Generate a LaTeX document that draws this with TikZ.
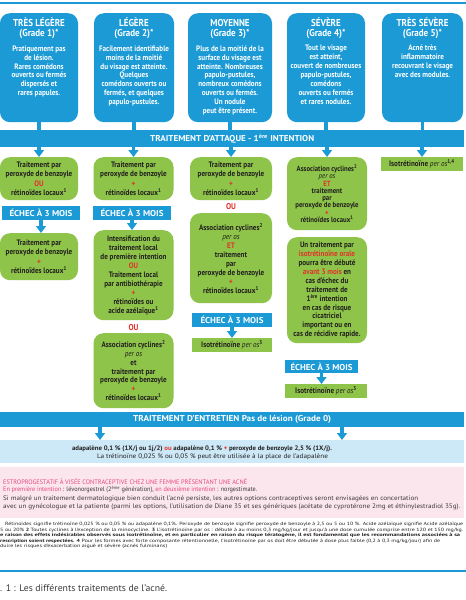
\documentclass[tikz,border=0pt]{standalone}
\usepackage{fontspec}
\usepackage{graphicx}
\setmainfont{PT Sans}
\newfontfamily\cf{PT Sans}[FakeStretch=0.9]
\usetikzlibrary{arrows.meta}
\definecolor{acblue}{HTML}{1B9AD6}
\definecolor{acgreen}{HTML}{8DC449}
\definecolor{acred}{HTML}{E4312B}
\definecolor{acdark}{HTML}{231F20}
\definecolor{aclight}{HTML}{CDE8F6}
\definecolor{acpink}{HTML}{FCE6EE}
\definecolor{acpinktxt}{HTML}{E5467F}
\definecolor{acgray}{HTML}{3A3A3A}
\newcommand\rd[1]{\textcolor{acred}{#1}}
\newcommand\pk[1]{\textcolor{acpinktxt}{#1}}
\newcommand\po{\textit{\mdseries per os}}
\newcommand\tstr[1]{\rule{0pt}{#1}}
\newlength\fitlen
\newcommand\fitw[2]{\settowidth\fitlen{#2}\pgfmathsetmacro\fitr{#1/\fitlen}\scalebox{\fitr}[1]{#2}}
\begin{document}
\begin{tikzpicture}[x=1pt,y=-1pt,
 gradebox/.style={fill=acblue, rounded corners=10pt, minimum width=78pt, minimum height=109pt, inner sep=0pt, anchor=north},
 gtitle/.style={text=white, font=\cf\bfseries\fontsize{10}{10}\selectfont, align=center, inner sep=0pt, anchor=north},
 gbody/.style={text=white, font=\cf\bfseries\fontsize{7.9}{8.9}\selectfont, align=center, inner sep=0pt, anchor=north},
 greenbox/.style={fill=acgreen, rounded corners=10pt, text=acdark, font=\cf\bfseries\fontsize{7.9}{9}\selectfont, align=center, inner sep=0pt, minimum width=80pt, anchor=north},
 isobox/.style={fill=acgreen, text=acdark, font=\cf\bfseries\fontsize{7.9}{8}\selectfont, minimum width=80pt, minimum height=14pt, anchor=north, inner sep=0pt},
 echec/.style={fill=acblue, text=white, font=\cf\bfseries\fontsize{8.5}{9}\selectfont, minimum width=78pt, minimum height=14pt, anchor=north, inner sep=0pt},
 bar/.style={fill=acblue, text=white, font=\cf\bfseries\fontsize{8.5}{9}\selectfont, minimum width=464pt, anchor=north west, inner sep=0pt},
 ortxt/.style={text=acred, font=\cf\bfseries\fontsize{8.5}{9}\selectfont, inner sep=0pt},
 stem/.style={draw=acblue, line width=3.5pt},
 arr/.style={draw=acblue, line width=3.5pt, -{Triangle[width=10pt,length=7pt]}},
 ltxt/.style={text=acdark, font=\cf\fontsize{6.5}{7}\selectfont, inner sep=0pt},
 ptxt/.style={text=acgray, font=\cf\fontsize{6.5}{7}\selectfont, inner sep=0pt, anchor=west},
 foot/.style={text=acdark, font=\cf\fontsize{4.6}{5}\selectfont, inner sep=0pt, anchor=west}
]
\useasboundingbox (0,0) rectangle (466,600);
\fill[white] (0,0) rectangle (466,600);
\draw[acblue, line width=1.3pt] (0,3) -- (466,3);

% grade boxes
\node[gradebox] (g1) at (39,13) {};
\node[gradebox, minimum width=80pt] (g2) at (134,13) {};
\node[gradebox, minimum width=84pt] (g3) at (230,13) {};
\node[gradebox] (g4) at (326,13) {};
\node[gradebox, minimum width=81pt] (g5) at (422.5,13) {};
\node[gtitle] (g1h) at (39,17) {\tstr{9pt}TRÈS LÉGÈRE\\(Grade 1)*};
\node[gtitle] (g2h) at (134,17) {\tstr{9pt}LÉGÈRE\\(Grade 2)*};
\node[gtitle] (g3h) at (230,17) {\tstr{9pt}MOYENNE\\(Grade 3)*};
\node[gtitle] (g4h) at (326,17) {\tstr{9pt}SÉVÈRE\\(Grade 4)*};
\node[gtitle] (g5h) at (422.5,17) {\tstr{9pt}TRÈS SÉVÈRE\\(Grade 5)*};
\node[gbody] (g1b) at (39,44) {\tstr{7pt}Pratiquement pas\\de lésion.\\Rares comédons\\ouverts ou fermés\\dispersés et\\rares papules.};
\node[gbody] (g2b) at (134,44) {\tstr{7pt}Facilement identifiable\\moins de la moitié\\du visage est atteinte.\\Quelques\\comédons ouverts ou\\fermés, et quelques\\papulo-pustules.};
\node[gbody] (g3b) at (230,44) {\tstr{7pt}Plus de la moitié de la\\surface du visage est\\atteinte. Nombreuses\\papulo-pustules,\\nombreux comédons\\ouverts ou fermés.\\Un nodule\\peut être présent.};
\node[gbody] (g4b) at (326,43.5) {\tstr{7pt}Tout le visage\\est atteint,\\couvert de nombreuses\\papulo-pustules,\\comédons\\ouverts ou fermés\\et rares nodules.};
\node[gbody] (g5b) at (422.5,43.5) {\tstr{7pt}Acné très\\inflammatoire\\recouvrant le visage\\avec des modules.};

% attack bar
\node[bar, minimum height=17pt] (bar1) at (0,130) {\fitw{164}{TRAITEMENT D’ATTAQUE - 1\textsuperscript{ère} INTENTION}};
\foreach \g in {g1,g2,g3,g4,g5} \draw[stem] (\g.south) -- (\g.south |- bar1.north);

% first row
\node[greenbox, minimum width=78pt, minimum height=43pt, font=\cf\bfseries\fontsize{7.9}{9.3}\selectfont] (a1) at (39,157) {Traitement par\\peroxyde de benzoyle\\\rd{OU}\\rétinoïdes locaux\textsuperscript{1}};
\node[greenbox, minimum height=43pt, font=\cf\bfseries\fontsize{7.9}{9.3}\selectfont] (a2) at (133.5,157) {Traitement par\\peroxyde de benzoyle\\\rd{+}\\rétinoïdes locaux\textsuperscript{1}};
\node[greenbox, minimum width=82pt, minimum height=43pt, font=\cf\bfseries\fontsize{7.9}{9.3}\selectfont] (a3) at (231,157) {Traitement par\\peroxyde de benzoyle\\\rd{+}\\rétinoïdes locaux\textsuperscript{1}};
\node[greenbox, minimum height=73pt, font=\cf\bfseries\fontsize{7.5}{7.3}\selectfont] (a4) at (327,157) {Association cyclines\textsuperscript{2}\\\po\\\rd{ET}\\traitement\\par\\peroxyde de benzoyle\\\rd{+}\\rétinoïdes locaux\textsuperscript{1}};
\node[isobox, minimum width=82pt] (a5) at (422,157) {Isotrétinoïne \po\textsuperscript{1,4}};
\foreach \a in {a1,a2,a3,a4,a5} \draw[arr] (\a.north |- bar1.south) -- (\a.north);

% column 1
\node[echec] (e1) at (41,206) {\fitw{63}{ÉCHEC À 3 MOIS}};
\node[greenbox, minimum width=78pt, minimum height=47pt, font=\cf\bfseries\fontsize{7.9}{9.3}\selectfont] (b1) at (39,233) {Traitement par\\peroxyde de benzoyle\\\rd{+}\\rétinoïdes locaux\textsuperscript{1}};
\draw[arr] (e1.south) -- (e1.south |- b1.north);

% column 2
\node[echec] (e2) at (132,206) {\fitw{63}{ÉCHEC À 3 MOIS}};
\node[greenbox, minimum height=90pt] (b2) at (133.5,230) {Intensification du\\traitement local\\de première intention\\\rd{OU}\\Traitement local\\par antibiothérapie\\\rd{+}\\rétinoïdes ou\\acide azélaïque\textsuperscript{1}};
\draw[arr] (e2.south) -- (e2.south |- b2.north);
\node[ortxt] (o2) at (133.5,327.5) {OU};
\node[greenbox, minimum height=75pt, font=\cf\bfseries\fontsize{7.9}{8.8}\selectfont] (c2) at (133.5,333) {Association cyclines\textsuperscript{2}\\\po\\et\\traitement par\\peroxyde de benzoyle\\\rd{+}\\rétinoïdes locaux\textsuperscript{1}};

% column 3
\node[ortxt] (o3) at (231,207) {OU};
\node[greenbox, minimum width=82pt, minimum height=90pt] (b3) at (231,213) {Association cyclines\textsuperscript{2}\\\po\\\rd{ET}\\traitement\\par\\peroxyde de benzoyle\\\rd{+}\\rétinoïdes locaux\textsuperscript{1}};
\node[echec, minimum width=80pt] (e3) at (232,313) {\fitw{63}{ÉCHEC À 3 MOIS}};
\node[isobox] (c3) at (232,338) {Isotrétinoïne \po\textsuperscript{3}};
\draw[arr] (e3.south) -- (e3.south |- c3.north);

% column 4
\node[greenbox, minimum height=106pt, font=\cf\bfseries\fontsize{7.9}{8.9}\selectfont] (b4) at (327,237) {Un traitement par\\\rd{isotrétinoïne orale}\\pourra être débuté\\\rd{avant 3 mois} en\\cas d’échec du\\traitement de\\1\textsuperscript{ère} intention\\en cas de risque\\cicatriciel\\important ou en\\cas de récidive rapide.};
\node[echec, minimum width=73pt, minimum height=13pt] (e4) at (321.5,360) {\fitw{62}{ÉCHEC À 3 MOIS}};
\node[isobox, minimum width=82pt] (c4) at (326,384) {Isotrétinoïne \po\textsuperscript{3}};
\draw[arr] (e4.south) -- (e4.south |- c4.north);

% maintenance
\node[bar, minimum height=15pt] (bar2) at (0,412) {\fitw{198}{TRAITEMENT D’ENTRETIEN Pas de lésion (Grade 0)}};
\node[fill=aclight, anchor=north west, minimum width=464pt, minimum height=23pt, inner sep=0pt] (lb) at (0,440) {};
\draw[arr] ([xshift=100pt]bar2.south west) -- ([xshift=100pt]lb.north west);
\draw[arr] ([xshift=342pt]bar2.south west) -- ([xshift=342pt]lb.north west);
\node[ltxt, font=\cf\bfseries\fontsize{6.5}{7}\selectfont] (l1) at (202,449) {\fitw{260}{adapalène 0,1 \% (1X/j ou 1j/2) \rd{ou} adapalène 0,1 \% \rd{+} peroxyde de benzoyle 2,5 \% (1X/j).}};
\node[ltxt] (l2) at (212.5,456.5) {\fitw{231}{La trétinoïne 0,025 \% ou 0,05 \% peut être utilisée à la place de l’adapalène}};

% oestroprogestatif
\node[fill=acpink, anchor=north west, minimum width=464pt, minimum height=51pt, inner sep=0pt] (pb) at (0,467) {};
\node[ptxt, text=acpinktxt] (p1) at (3,482) {\fitw{244}{ESTROPROGESTATIF À VISÉE CONTRACEPTIVE CHEZ UNE FEMME PRÉSENTANT UNE ACNÉ}};
\node[ptxt] (p2) at (3,489.5) {\fitw{254}{\pk{En première intention} : lévonorgestrel (2\textsuperscript{ème} génération), \pk{en deuxième intention} : norgestimate.}};
\node[ptxt] (p3) at (3,499) {\fitw{415}{Si malgré un traitement dermatologique bien conduit l’acné persiste, les autres options contraceptives seront envisagées en concertation}};
\node[ptxt] (p4) at (3,506.5) {\fitw{457}{avec un gynécologue et la patiente (parmi les options, l’utilisation de Diane 35 et ses génériques (acétate de cyprotérone 2mg et éthinylestradiol 35g).}};

% footnotes
\node[foot] (f1) at (5,524.5) {\fitw{458}{Rétinoïdes signifie trétinoïne 0,025 \% ou 0,05 \% ou adapalène 0,1\%. Peroxyde de benzoyle signifie peroxyde de benzoyle à 2,5 ou 5 ou 10 \%. Acide azélaïque signifie Acide azélaïque}};
\node[foot] (f2) at (0,530) {\fitw{463}{5 ou 20\% \textbf{2} Toutes cyclines à l’exception de la minocycline. \textbf{3} L’isotrétinoïne par os : débute à au moins 0,3 mg/kg/jour et jusqu’à une dose cumulée comprise entre 120 et 150 mg/kg.}};
\node[foot] (f3) at (0,535.5) {\fitw{460}{\bfseries e raison des effets indésirables observés sous isotrétinoïne, et en particulier en raison du risque tératogène, il est fondamental que les recommandations associées à sa}};
\node[foot] (f4) at (0,541) {\fitw{440}{\textbf{rescription soient respectées.} \textbf{4} Pour les formes avec forte composante rétentionnelle, l’isotrétinoïne par os doit être débutée à dose plus faible (0,2 à 0,3 mg/kg/jour) afin de}};
\node[foot] (f5) at (0,546.5) {\fitw{167}{duire les risques d’exacerbation aiguë et sévère (acnés fulminans)}};

% caption
\draw[acblue, line width=1.5pt] (0,571) -- (466,571);
\node[anchor=west, inner sep=0pt, text=acgray, font=\fontsize{9.5}{10}\selectfont] (cap) at (0,588) {\fitw{167}{. 1 : Les différents traitements de l’acné.}};
\end{tikzpicture}
\end{document}
